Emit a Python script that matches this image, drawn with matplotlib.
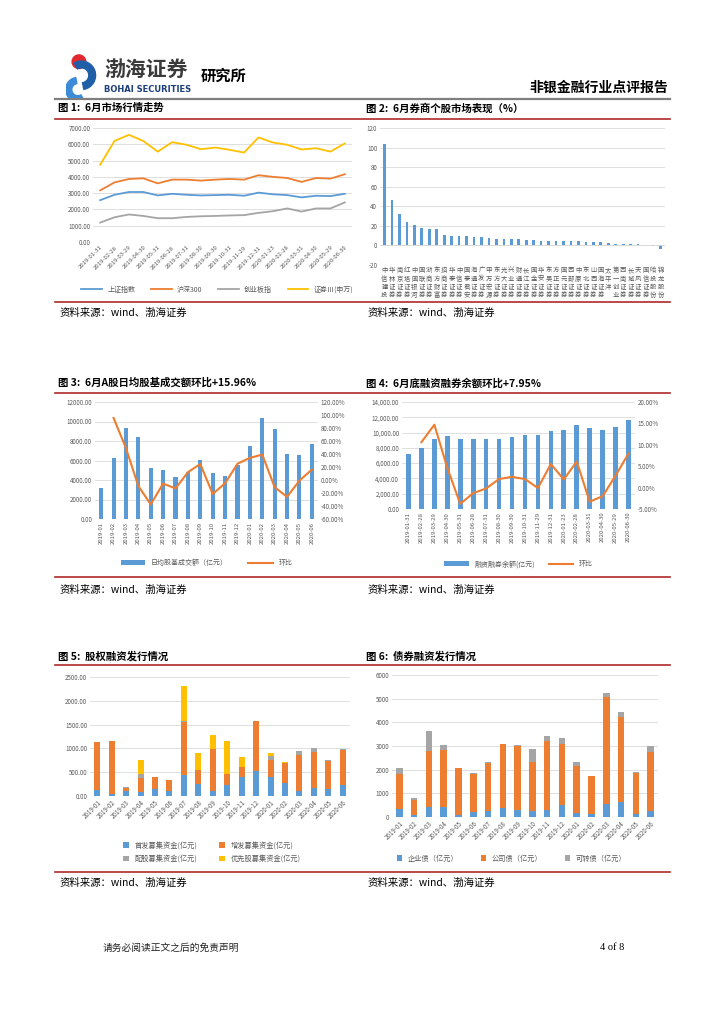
import matplotlib
matplotlib.use("Agg")
import matplotlib.pyplot as plt
from matplotlib.lines import Line2D
from matplotlib.patches import Circle, Wedge
from matplotlib.ticker import FuncFormatter
import numpy as np

plt.rcParams['font.family'] = ['Noto Sans CJK SC', 'DejaVu Sans']
plt.rcParams['axes.unicode_minus'] = False

# -----------------------------
# Data
# -----------------------------
month_ends = ["2019-01-31", "2019-02-28", "2019-03-29", "2019-04-30", "2019-05-31",
              "2019-06-28", "2019-07-31", "2019-08-30", "2019-09-30", "2019-10-31",
              "2019-11-29", "2019-12-31", "2020-01-23", "2020-02-28", "2020-03-31",
              "2020-04-30", "2020-05-29", "2020-06-30"]
months = ["2019-01", "2019-02", "2019-03", "2019-04", "2019-05", "2019-06",
          "2019-07", "2019-08", "2019-09", "2019-10", "2019-11", "2019-12",
          "2020-01", "2020-02", "2020-03", "2020-04", "2020-05", "2020-06"]

# fig 1: index levels
sh_index = [2570, 2900, 3070, 3070, 2860, 2960, 2900, 2860, 2880, 2900, 2840, 3030,
            2930, 2880, 2740, 2840, 2820, 2960]
hs300 = [3170, 3660, 3870, 3910, 3600, 3830, 3830, 3770, 3830, 3870, 3830, 4100,
         4000, 3930, 3690, 3930, 3890, 4160]
gem = [1190, 1520, 1690, 1600, 1460, 1460, 1540, 1580, 1600, 1630, 1650, 1790,
       1890, 2060, 1870, 2060, 2060, 2430]
sec_sw = [4750, 6210, 6580, 6200, 5550, 6130, 5970, 5700, 5800, 5660, 5490, 6420,
          6110, 5970, 5680, 5760, 5550, 6050]

# fig 2: broker stock performance in June (%)
brokers = ["中信建投", "华林证券", "南京证券", "红塔证券", "中国银河", "国联证券", "浙商证券",
           "东方财富", "招商证券", "华泰证券", "中信证券", "国泰君安", "海通证券", "广发证券",
           "申万宏源", "东方证券", "光大证券", "兴业证券", "财通证券", "长江证券", "国金证券",
           "华安证券", "东吴证券", "方正证券", "国元证券", "西部证券", "中原证券", "东北证券",
           "山西证券", "国海证券", "太平洋", "第一创业", "西南证券", "长城证券", "天风证券",
           "国信证券", "哈投股份", "锦龙股份"]
broker_pct = [103.5, 46.6, 32.0, 24.0, 20.6, 17.5, 16.8, 16.8, 10.6, 10.0, 10.0, 10.0,
              8.7, 8.7, 7.7, 7.0, 7.0, 7.0, 6.3, 5.6, 5.6, 4.9, 4.9, 4.2, 4.2, 4.2, 4.2,
              3.5, 3.5, 3.5, 2.9, 1.5, 1.5, 1.2, 1.2, 0.0, -0.9, -3.3]

# fig 3: daily average stock+fund turnover (100m yuan) and MoM (%)
turnover = [3180, 6260, 9330, 8440, 5260, 4990, 4310, 4850, 6020, 4680, 4440, 5570,
            7450, 10390, 9260, 6700, 6600, 7730]
turnover_mom = [np.nan, 95.4, 49.0, -9.5, -37.5, -5.5, -13.0, 12.0, 24.6, -21.5, -5.0,
                25.0, 34.0, 39.0, -11.0, -26.0, -1.0, 15.96]

# fig 4: margin balance (100m yuan) and MoM (%)
margin = [7200, 8000, 9200, 9600, 9150, 9100, 9100, 9200, 9460, 9720, 9720, 10200,
          10400, 11000, 10600, 10400, 10770, 11640]
margin_mom = [np.nan, 10.6, 14.7, 4.6, -3.8, -1.3, -0.2, 2.0, 2.5, 2.0, -0.1, 5.5,
              1.9, 6.1, -3.3, -2.0, 2.8, 7.95]

# fig 5: equity financing (100m yuan)
ipo = [120, 35, 105, 77, 147, 98, 448, 245, 105, 224, 399, 518, 399, 280, 105, 175, 154, 238]
seo = [1010, 1130, 60, 300, 252, 230, 1107, 295, 890, 231, 217, 1050, 350, 420, 763, 742, 581, 721]
rights = [10, 0, 15, 78, 5, 0, 28, 0, 0, 0, 0, 0, 84, 0, 84, 84, 14, 21]
pref = [0, 0, 0, 295, 0, 0, 720, 357, 280, 693, 196, 0, 63, 14, 0, 0, 0, 0]

# fig 6: bond financing (100m yuan)
ent_bond = [340, 100, 420, 440, 85, 210, 270, 380, 300, 270, 296, 520, 185, 113, 565, 635, 127, 268]
corp_bond = [1490, 620, 2370, 2380, 1970, 1605, 2010, 2690, 2715, 2055, 2915, 2550, 1985, 1605,
             4520, 3605, 1745, 2480]
conv_bond = [240, 85, 845, 225, 15, 45, 30, 30, 30, 550, 225, 270, 155, 15, 170, 200, 28, 270]

BLUE = "#5B9BD5"
ORANGE = "#ED7D31"
GRAY = "#A5A5A5"
YELLOW = "#FFC000"
RED_LINE = "#B02A2A"
TICK = "#595959"
GRID = "#D9D9D9"

# -----------------------------
# Page layout helpers (pixel coords)
# -----------------------------
W, H = 724, 1024
fig = plt.figure(figsize=(W / 100, H / 100), dpi=100)


def px_axes(l, t, r, b):
    return fig.add_axes([l / W, 1 - b / H, (r - l) / W, (b - t) / H])


def hline(y, x0, x1, color, lw):
    fig.add_artist(Line2D([x0 / W, x1 / W], [1 - y / H, 1 - y / H],
                          color=color, lw=lw, transform=fig.transFigure))


def ptext(x, y, s, **kw):
    fig.text(x / W, 1 - y / H, s, **kw)


def style_axes(ax, fs=4.5):
    for sp in ax.spines.values():
        sp.set_visible(False)
    ax.tick_params(length=0, labelsize=fs, colors=TICK, pad=2)
    ax.grid(axis="y", color=GRID, lw=0.6)
    ax.set_axisbelow(True)


# -----------------------------
# Header
# -----------------------------
logo = px_axes(66, 52, 100, 100)
logo.set_xlim(0, 1)
logo.set_ylim(0, 1.4)
logo.set_aspect("equal")
logo.axis("off")
logo.add_patch(Circle((0.38, 1.12), 0.2, color="#E0282E"))
logo.add_patch(Wedge((0.45, 0.72), 0.42, -80, 120, width=0.2, color="#1F5FA8"))
logo.add_patch(Wedge((0.35, 0.30), 0.36, 100, 300, width=0.18, color="#3C8BD8"))

ptext(104, 69, "渤海证券", fontsize=15, color="#3a3a3a", va="center", fontweight="bold")
ptext(104, 89, "BOHAI SECURITIES", fontsize=6, color="#1F3F7A", va="center",
      fontweight="bold", family="DejaVu Sans")
ptext(201, 76, "研究所", fontsize=11, color="black", va="center", fontweight="bold")
ptext(668, 88, "非银金融行业点评报告", fontsize=10, color="black", va="center",
      ha="right", fontweight="bold")
hline(99, 55, 670, "#7F7F7F", 1.6)

# captions and rules
ptext(58, 108, "图 1:  6月市场行情走势", fontsize=7.5, fontweight="bold", va="center")
ptext(366, 108, "图 2:  6月券商个股市场表现（%）", fontsize=7.5, fontweight="bold", va="center")
hline(119, 55, 670, RED_LINE, 1.2)
hline(302, 55, 670, RED_LINE, 1.2)
ptext(60, 313, "资料来源：wind、渤海证券", fontsize=7.5, va="center", style="italic")
ptext(368, 313, "资料来源：wind、渤海证券", fontsize=7.5, va="center", style="italic")

ptext(58, 383, "图 3:  6月A股日均股基成交额环比+15.96%", fontsize=7.5, fontweight="bold", va="center")
ptext(366, 383, "图 4:  6月底融资融券余额环比+7.95%", fontsize=7.5, fontweight="bold", va="center")
hline(393, 55, 670, RED_LINE, 1.2)
hline(577, 55, 670, RED_LINE, 1.2)
ptext(60, 590, "资料来源：wind、渤海证券", fontsize=7.5, va="center", style="italic")
ptext(368, 590, "资料来源：wind、渤海证券", fontsize=7.5, va="center", style="italic")

ptext(58, 656, "图 5:  股权融资发行情况", fontsize=7.5, fontweight="bold", va="center")
ptext(366, 656, "图 6:  债券融资发行情况", fontsize=7.5, fontweight="bold", va="center")
hline(665, 55, 670, RED_LINE, 1.2)
hline(872, 55, 670, RED_LINE, 1.2)
ptext(60, 883, "资料来源：wind、渤海证券", fontsize=7.5, va="center", style="italic")
ptext(368, 883, "资料来源：wind、渤海证券", fontsize=7.5, va="center", style="italic")

ptext(103, 948, "请务必阅读正文之后的免责声明", fontsize=7, va="center", color="#222222")
ptext(600, 948, "4 of 8", fontsize=7.5, va="center", family="Liberation Serif")

x = np.arange(len(months))

# -----------------------------
# Fig 1: market indices
# -----------------------------
ax1 = px_axes(93, 128, 352, 242)
style_axes(ax1)
ax1.plot(x, sh_index, color=BLUE, lw=1.3, label="上证指数")
ax1.plot(x, hs300, color=ORANGE, lw=1.3, label="沪深300")
ax1.plot(x, gem, color=GRAY, lw=1.3, label="创业板指")
ax1.plot(x, sec_sw, color=YELLOW, lw=1.3, label="证券Ⅲ(申万)")
ax1.set_ylim(0, 7000)
ax1.set_yticks(np.arange(0, 7001, 1000))
ax1.yaxis.set_major_formatter(FuncFormatter(lambda v, p: f"{v:.2f}"))
ax1.set_xlim(-0.5, len(x) - 0.5)
ax1.set_xticks(x)
ax1.set_xticklabels(month_ends, rotation=45, ha="right", rotation_mode="anchor", fontsize=4.3)
ax1.legend(loc="upper center", bbox_to_anchor=(0.48, -0.33), ncol=4, frameon=False,
           fontsize=5, handlelength=3, columnspacing=2.2, labelcolor=TICK)

# -----------------------------
# Fig 2: broker stocks
# -----------------------------
ax2 = px_axes(380, 128, 665, 265)
style_axes(ax2)
xb = np.arange(len(brokers))
ax2.bar(xb, broker_pct, width=0.36, color=BLUE)
ax2.set_ylim(-20, 120)
ax2.set_yticks(np.arange(-20, 121, 20))
ax2.set_xlim(-0.6, len(brokers) - 0.4)
ax2.set_xticks(xb)
ax2.set_xticklabels(["\n".join(n) for n in brokers], fontsize=4.6, linespacing=1.05,
                    va="top")
ax2.tick_params(axis="x", pad=1)
ax2.axhline(0, color=GRID, lw=0.6)

# -----------------------------
# Fig 3: turnover
# -----------------------------
ax3 = px_axes(95, 402, 318, 519)
style_axes(ax3)
ax3.bar(x, turnover, width=0.33, color=BLUE, label="日均股基成交额（亿元）")
ax3.set_ylim(0, 12000)
ax3.set_yticks(np.arange(0, 12001, 2000))
ax3.yaxis.set_major_formatter(FuncFormatter(lambda v, p: f"{v:.2f}"))
ax3.set_xlim(-0.5, len(x) - 0.5)
ax3.set_xticks(x)
ax3.set_xticklabels(months, rotation=90, fontsize=4.3)
ax3r = ax3.twinx()
for sp in ax3r.spines.values():
    sp.set_visible(False)
ax3r.plot(x, turnover_mom, color=ORANGE, lw=1.5, label="环比")
ax3r.set_ylim(-60, 120)
ax3r.set_yticks(np.arange(-60, 121, 20))
ax3r.yaxis.set_major_formatter(FuncFormatter(lambda v, p: f"{v:.2f}%"))
ax3r.tick_params(length=0, labelsize=4.5, colors=TICK, pad=2)
h1, l1 = ax3.get_legend_handles_labels()
h2, l2 = ax3r.get_legend_handles_labels()
ax3.legend(h1 + h2, l1 + l2, loc="upper center", bbox_to_anchor=(0.5, -0.29), ncol=2,
           frameon=False, fontsize=5, handlelength=3.5, columnspacing=3, labelcolor=TICK)

# -----------------------------
# Fig 4: margin balance
# -----------------------------
ax4 = px_axes(402, 402, 635, 509)
style_axes(ax4)
ax4.bar(x, margin, width=0.36, color=BLUE, label="融资融券余额(亿元)")
ax4.set_ylim(0, 14000)
ax4.set_yticks(np.arange(0, 14001, 2000))
ax4.yaxis.set_major_formatter(FuncFormatter(lambda v, p: f"{v:,.2f}"))
ax4.set_xlim(-0.5, len(x) - 0.5)
ax4.set_xticks(x)
ax4.set_xticklabels(month_ends, rotation=90, fontsize=4.3)
ax4r = ax4.twinx()
for sp in ax4r.spines.values():
    sp.set_visible(False)
ax4r.plot(x, margin_mom, color=ORANGE, lw=1.5, label="环比")
ax4r.set_ylim(-5, 20)
ax4r.set_yticks(np.arange(-5, 21, 5))
ax4r.yaxis.set_major_formatter(FuncFormatter(lambda v, p: f"{v:.2f}%"))
ax4r.tick_params(length=0, labelsize=4.5, colors=TICK, pad=2)
h1, l1 = ax4.get_legend_handles_labels()
h2, l2 = ax4r.get_legend_handles_labels()
ax4.legend(h1 + h2, l1 + l2, loc="upper center", bbox_to_anchor=(0.5, -0.42), ncol=2,
           frameon=False, fontsize=5, handlelength=3.5, columnspacing=2, labelcolor=TICK)

# -----------------------------
# Fig 5: equity financing
# -----------------------------
ax5 = px_axes(90, 677, 350, 796)
style_axes(ax5)
b = np.zeros(len(x))
bars5 = []
for vals, col, lab in [(ipo, BLUE, "首发募集资金(亿元)"), (seo, ORANGE, "增发募集资金(亿元)"),
                       (rights, GRAY, "配股募集资金(亿元)"), (pref, YELLOW, "优先股募集资金(亿元)")]:
    bars5.append(ax5.bar(x, vals, bottom=b, width=0.42, color=col, label=lab))
    b = b + np.array(vals)
ax5.set_ylim(0, 2500)
ax5.set_yticks(np.arange(0, 2501, 500))
ax5.yaxis.set_major_formatter(FuncFormatter(lambda v, p: f"{v:.2f}"))
ax5.set_xlim(-0.5, len(x) - 0.5)
ax5.set_xticks(x)
ax5.set_xticklabels(months, rotation=45, ha="right", rotation_mode="anchor", fontsize=4.5)
# row-wise order: 首发, 增发 / 配股, 优先股
order = [0, 2, 1, 3]
ax5.legend([bars5[i] for i in order], [bars5[i].get_label() for i in order],
           loc="upper center", bbox_to_anchor=(0.47, -0.33), ncol=2, frameon=False,
           fontsize=5.2, handlelength=0.8, handleheight=0.8, columnspacing=3,
           labelcolor=TICK, labelspacing=0.7)

# -----------------------------
# Fig 6: bond financing
# -----------------------------
ax6 = px_axes(392, 675, 658, 817)
style_axes(ax6)
b = np.zeros(len(x))
for vals, col, lab in [(ent_bond, BLUE, "企业债（亿元）"), (corp_bond, ORANGE, "公司债（亿元）"),
                       (conv_bond, GRAY, "可转债（亿元）")]:
    ax6.bar(x, vals, bottom=b, width=0.45, color=col, label=lab)
    b = b + np.array(vals)
ax6.set_ylim(0, 6000)
ax6.set_yticks(np.arange(0, 6001, 1000))
ax6.set_xlim(-0.5, len(x) - 0.5)
ax6.set_xticks(x)
ax6.set_xticklabels(months, rotation=45, ha="right", rotation_mode="anchor", fontsize=4.5)
ax6.legend(loc="upper center", bbox_to_anchor=(0.45, -0.22), ncol=3, frameon=False,
           fontsize=5.2, handlelength=0.8, handleheight=0.8, columnspacing=3,
           labelcolor=TICK)

fig.savefig("out.png", dpi=100)
